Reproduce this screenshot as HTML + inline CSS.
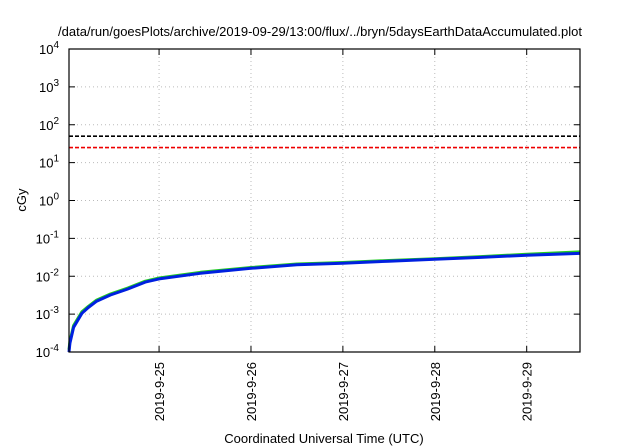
<!DOCTYPE html>
<html><head><meta charset="utf-8"><style>
body{margin:0;background:#fff;}
svg{display:block;font-family:"Liberation Sans",sans-serif;}
</style></head><body>
<svg id="chart" width="640" height="448"></svg>
<script>
const dayLabels=["2019-9-25","2019-9-26","2019-9-27","2019-9-28","2019-9-29"];
const dayTicks=[1,2,3,4,5];
const yExps=[-4,-3,-2,-1,0,1,2,3,4];
const seriesDays=[0.02,0.03,0.07,0.16,0.23,0.32,0.47,0.66,0.85,1.0,1.45,2.0,2.5,3.0,3.5,4.0,4.5,5.0,5.58];
const greenVals=[1.15e-4,1.9e-4,5.0e-4,1.15e-3,1.6e-3,2.35e-3,3.4e-3,4.9e-3,7.4e-3,9.0e-3,1.27e-2,1.7e-2,2.1e-2,2.3e-2,2.6e-2,2.9e-2,3.3e-2,3.8e-2,4.4e-2];
const blueVals=[1.0e-4,1.7e-4,4.5e-4,1.05e-3,1.5e-3,2.2e-3,3.2e-3,4.6e-3,7.0e-3,8.5e-3,1.2e-2,1.62e-2,2.0e-2,2.2e-2,2.5e-2,2.8e-2,3.15e-2,3.6e-2,4.0e-2];
const limitBlack=50, limitRed=25;
const L=69,R=580,T=49,B=352,xMin=0.02,xMax=5.58;
const sx=d=>L+(d-xMin)/(xMax-xMin)*(R-L);
const sy=v=>B-(Math.log10(v)+4)/8*(B-T);
const svg=document.getElementById('chart');
const NS="http://www.w3.org/2000/svg";
function mk(t,a,txt){const e=document.createElementNS(NS,t);for(const k in a)e.setAttribute(k,a[k]);if(txt!=null)e.textContent=txt;svg.appendChild(e);return e;}
let e;
e=mk('text',{x:320,y:36,'text-anchor':'middle','font-size':13,fill:'#000'},'/data/run/goesPlots/archive/2019-09-29/13:00/flux/../bryn/5daysEarthDataAccumulated.plot');

yExps.forEach(p=>{const y=sy(Math.pow(10,p));
 if(p>-4&&p<4){e=mk('line',{x1:L,x2:R,y1:y,y2:y,stroke:'#bbb','stroke-dasharray':'1,3','stroke-width':1});
 }
 e=mk('line',{x1:L,x2:L+6,y1:y,y2:y,stroke:'#000'});
 e=mk('line',{x1:R-6,x2:R,y1:y,y2:y,stroke:'#000'});
 const t=mk('text',{x:L-10,y:y+5,'text-anchor':'end','font-size':13});
 
 const a=document.createElementNS(NS,'tspan');a.textContent='10';t.appendChild(a);
 const b=document.createElementNS(NS,'tspan');b.setAttribute('dy','-6');b.setAttribute('font-size','10');b.textContent=String(p);t.appendChild(b);
});
dayTicks.forEach((d,i)=>{const x=sx(d);
 e=mk('line',{x1:x,x2:x,y1:T,y2:B,stroke:'#bbb','stroke-dasharray':'1,3'});
 e=mk('line',{x1:x,x2:x,y1:B-6,y2:B,stroke:'#000'});
 e=mk('line',{x1:x,x2:x,y1:T,y2:T+6,stroke:'#000'});
 e=mk('text',{x:0,y:0,'text-anchor':'end','font-size':13,transform:`translate(${x+5},${B+10}) rotate(-90)`},dayLabels[i]);
 
});
e=mk('line',{x1:L,x2:R,y1:sy(limitBlack),y2:sy(limitBlack),stroke:'#000','stroke-width':1.6,'stroke-dasharray':'4,2'});

e=mk('line',{x1:L,x2:R,y1:sy(limitRed),y2:sy(limitRed),stroke:'#e00','stroke-width':1.6,'stroke-dasharray':'4,2'});

const pts=v=>seriesDays.map((d,i)=>sx(d).toFixed(1)+','+sy(v[i]).toFixed(1)).join(' ');
e=mk('polyline',{points:pts(greenVals),fill:'none',stroke:'#2c2','stroke-width':3,'stroke-linejoin':'round'});

e=mk('polyline',{points:pts(blueVals),fill:'none',stroke:'#0020e0','stroke-width':3,'stroke-linejoin':'round'});

e=mk('rect',{x:L,y:T,width:R-L,height:B-T,fill:'none',stroke:'#000','stroke-width':1.2});

e=mk('text',{x:0,y:0,'text-anchor':'middle','font-size':13,transform:`translate(26,200) rotate(-90)`},'cGy');

e=mk('text',{x:324,y:443,'text-anchor':'middle','font-size':13},'Coordinated Universal Time (UTC)');

</script>
</body></html>
